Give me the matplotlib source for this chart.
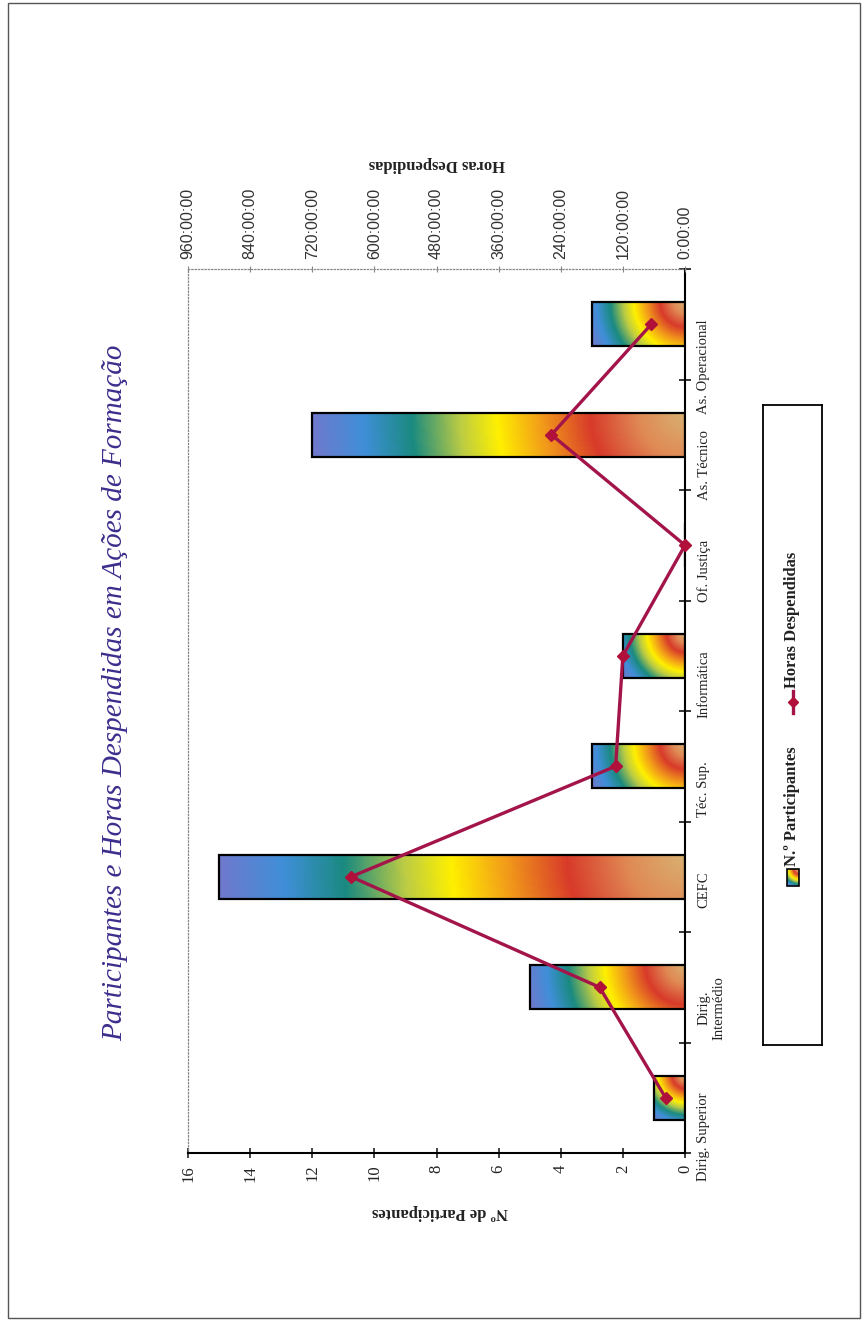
import numpy as np
import matplotlib.pyplot as plt
from matplotlib.colors import LinearSegmentedColormap
from matplotlib.ticker import FuncFormatter, MultipleLocator, FixedLocator
from matplotlib.patches import Rectangle
from matplotlib.lines import Line2D

# dados
categorias = ["Dirig. Superior", "Dirig.\nIntermédio", "CEFC", "Téc. Sup.",
              "Informática", "Of. Justiça", "As. Técnico", "As. Operacional"]
participantes = [1, 5, 15, 3, 2, 0, 12, 3]
horas = [37.5, 165, 645, 134, 120, 0, 258, 65]

titulo = "Participantes e Horas Despendidas em Ações de Formação"
label_part = "Nº de Participantes"
label_horas = "Horas Despendidas"
leg_part = "N.º Participantes"
leg_horas = "Horas Despendidas"

# gradiente "arco-iris" do Excel (distancia ao canto da base)
arco_iris = LinearSegmentedColormap.from_list("arco", [
    (0.00, "#d8b070"), (0.12, "#e08a55"), (0.25, "#d83a2a"),
    (0.38, "#f29a1a"), (0.50, "#fff000"), (0.60, "#bccc44"),
    (0.73, "#1a8a80"), (0.86, "#3f8fd8"), (1.00, "#7078cc")])

plt.rcParams['font.family'] = ['Liberation Serif', 'DejaVu Serif']

W, H = 865, 1328
fig = plt.figure(figsize=(W / 100, H / 100), dpi=100)
fig.patch.set_facecolor("white")


def fx(x):
    return x / W


def fy(y):
    return 1 - y / H


def gradiente(w_px, h_px, nx=240, ny=60):
    u = np.linspace(0, 1, nx)[None, :] * w_px
    v = np.linspace(1, 0, ny)[:, None] * h_px
    d = np.sqrt(u ** 2 + v ** 2) / np.hypot(w_px, h_px)
    return arco_iris(d)


# area do grafico
left, right, top, bottom = 188, 685, 269, 1153
ax = fig.add_axes([fx(left), fy(bottom), fx(right - left), (bottom - top) / H])
pos = np.arange(len(categorias))
alt = 0.4
bars = ax.barh(pos, participantes, height=alt, facecolor="none",
               edgecolor="black", linewidth=1.6, zorder=3)

px_x = (right - left) / 16.0
px_y = (bottom - top) / len(categorias)
for b, val in zip(bars, participantes):
    if val <= 0:
        continue
    y0 = b.get_y()
    img = gradiente(val * px_x, alt * px_y)
    im = ax.imshow(img, extent=(0, val, y0, y0 + alt), origin="lower",
                   aspect="auto", interpolation="bilinear", zorder=2)
    im.set_clip_path(b)

ax.set_xlim(16, 0)
ax.set_ylim(-0.5, len(categorias) - 0.5)

ax.xaxis.set_major_locator(MultipleLocator(2))
ax.tick_params(axis="x", direction="inout", length=7, width=1.2,
               labelsize=12, labelrotation=90, pad=5, colors="#222")
ax.yaxis.tick_right()
ax.set_yticks(pos)
ax.set_yticklabels(categorias)
ax.yaxis.set_minor_locator(FixedLocator(np.arange(-0.5, len(categorias), 1)))
ax.tick_params(axis="y", which="major", length=0, pad=9, labelsize=10.5,
               labelrotation=90, colors="#222")
ax.tick_params(axis="y", which="minor", direction="inout", length=8, width=1.1)
for lab in ax.get_yticklabels():
    lab.set_multialignment("center")

ax.spines["right"].set_linewidth(1.5)
ax.spines["bottom"].set_linewidth(1.5)
ax.spines["left"].set_color("#888")
ax.spines["left"].set_linestyle(":")
ax.spines["left"].set_linewidth(0.9)
ax.spines["top"].set_visible(False)

# eixo secundario (horas)
ax2 = ax.twiny()
ax2.set_xlim(960, 0)
ax2.plot(horas, pos, color="#a3154a", lw=2.4, marker="D", markersize=6.5,
         markerfacecolor="#b0103a", markeredgecolor="#b0103a", zorder=5,
         clip_on=False)
ax2.xaxis.set_major_locator(MultipleLocator(120))
ax2.xaxis.set_major_formatter(FuncFormatter(lambda v, p: f"{int(round(v))}:00:00"))
ax2.tick_params(axis="x", direction="inout", length=5, width=0.8,
                color="#888", labelsize=11.5, labelrotation=90, pad=5,
                labelcolor="#333")
for lab in ax2.get_xticklabels():
    lab.set_family(["Liberation Sans", "DejaVu Sans"])
for s in ["left", "right", "bottom"]:
    ax2.spines[s].set_visible(False)
ax2.spines["top"].set_color("#888")
ax2.spines["top"].set_linestyle(":")
ax2.spines["top"].set_linewidth(0.9)

# titulos
fig.text(fx(115), fy(693), titulo, rotation=90, ha="center", va="center",
         fontsize=21, style="italic", color="#3b2e8c")
fig.text(fx(440), fy(1212), label_part, rotation=180, ha="center",
         va="center", fontsize=12, fontweight="bold", color="#222")
fig.text(fx(437), fy(164), label_horas, rotation=180, ha="center",
         va="center", fontsize=12, fontweight="bold", color="#222")

# legenda
lx0, lx1, ly0, ly1 = 763, 822, 405, 1045
lax = fig.add_axes([fx(lx0), fy(ly1), fx(lx1 - lx0), (ly1 - ly0) / H])
lax.set_xlim(lx0, lx1)
lax.set_ylim(ly1, ly0)
lax.set_xticks([])
lax.set_yticks([])
for s in lax.spines.values():
    s.set_linewidth(1.3)
cx = (lx0 + lx1) / 2
lax.imshow(gradiente(17, 12, 40, 40).transpose(1, 0, 2),
           extent=(cx - 6, cx + 6, 886, 869), aspect="auto", zorder=2)
lax.add_patch(Rectangle((cx - 6, 869), 12, 17, fill=False, ec="black",
                        lw=1.2, zorder=3))
lax.text(cx, 866, leg_part, rotation=90, ha="center", va="bottom",
         fontsize=12, fontweight="bold", color="#222")
lax.add_line(Line2D([cx, cx], [691, 713], color="#a3154a", lw=2.4))
lax.plot([cx], [702], marker="D", markersize=5.5, color="#b0103a")
lax.text(cx, 688, leg_horas, rotation=90, ha="center", va="bottom",
         fontsize=12, fontweight="bold", color="#222")

# moldura da pagina
fig.add_artist(Rectangle((fx(8), fy(1318)), fx(860 - 8), (1318 - 3) / H,
                         transform=fig.transFigure, fill=False,
                         ec="#555", lw=1))

fig.savefig("out.png", dpi=100)
